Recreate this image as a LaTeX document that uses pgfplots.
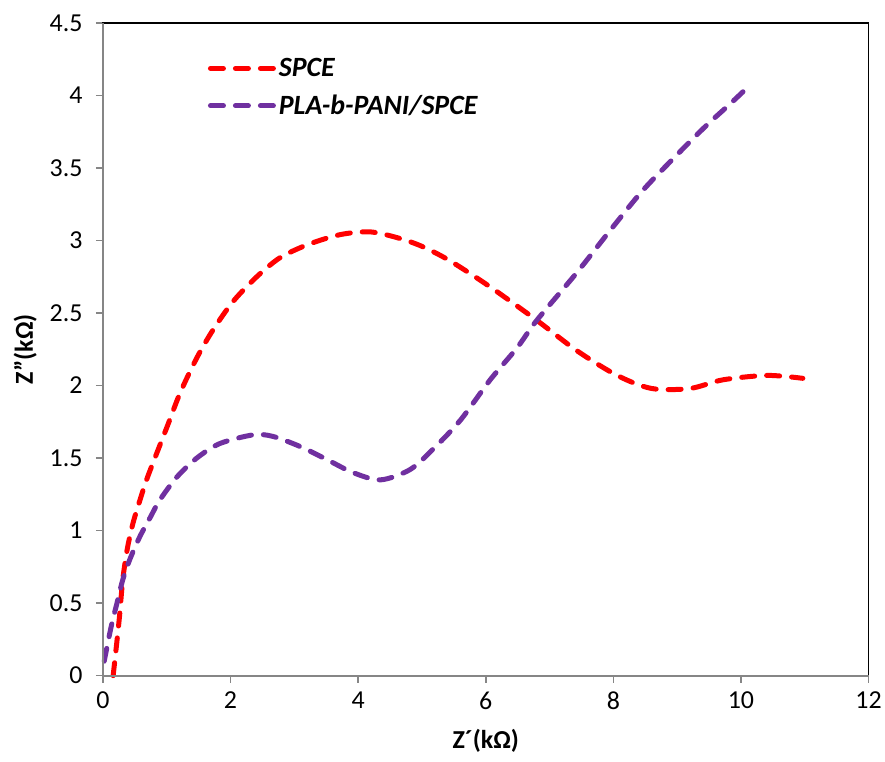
\documentclass[border=0pt]{standalone}
\usepackage{fontspec}
\setmainfont{Carlito}
\usepackage{pgfplots}
\pgfplotsset{compat=1.18}
\definecolor{myred}{RGB}{255,0,0}
\definecolor{mypurple}{RGB}{112,48,160}
\definecolor{axgray}{RGB}{134,134,134}
\begin{document}
\begin{tikzpicture}
\begin{axis}[
  at={(0,0)}, anchor=south west,
  width=766bp, height=653bp, scale only axis,
  xmin=0, xmax=12, ymin=0, ymax=4.5,
  xtick={0,2,...,12}, ytick={0,0.5,...,4.5},
  yticklabels={0,0.5,1,1.5,2,2.5,3,3.5,4,4.5},
  xtick pos=bottom, ytick pos=left,
  tick align=outside, major tick length=7bp,
  tick style={axgray, line width=1.5bp},
  axis line style={black, line width=1.5bp},
  /pgf/number format/assume math mode=true,
  ticklabel style={font=\fontsize{26}{30}\selectfont},
  yticklabel style={xshift=-10bp},
  xticklabel style={yshift=-6bp},
  xlabel={\bfseries Z´(kΩ)},
  ylabel={\bfseries Z”(kΩ)},
  label style={font=\fontsize{26}{30}\selectfont},
  xlabel style={yshift=-12bp},
  ylabel style={yshift=6bp},
  legend style={draw=none, fill=none, at={(0.133,0.952)}, anchor=north west,
    font=\fontsize{28}{32}\selectfont\bfseries\itshape, row sep=13bp,
    /tikz/every even column/.append style={column sep=8bp}},
  legend cell align=left,
  legend image code/.code={\draw[#1] (0bp,0bp) -- (64bp,0bp);},
  every axis plot/.append style={line width=5bp, line cap=round, dash pattern=on 13bp off 12bp, smooth, tension=0.5},
  clip=false,
]
\addplot[myred] coordinates {
(0.16,0.0) (0.21,0.2) (0.26,0.41) (0.31,0.66) (0.38,0.87) (0.47,1.05) (0.58,1.21) (0.70,1.37) (1.0,1.71) (1.21,1.95) (1.47,2.19) (1.72,2.38) (2.04,2.58) (2.41,2.75) (2.77,2.88) (3.2,2.97) (3.71,3.04) (4.18,3.06) (4.61,3.02) (5.0,2.96) (5.44,2.86) (6.07,2.68) (6.80,2.45) (7.43,2.24) (8.06,2.07) (8.6,1.98) (9.2,1.98) (9.72,2.04) (10.41,2.07) (10.97,2.05)
};
\addlegendentry{SPCE}
\addplot[mypurple] coordinates {
(0.02,0.1) (0.13,0.34) (0.22,0.5) (0.31,0.66) (0.42,0.8) (0.58,0.96) (0.74,1.09) (0.89,1.21) (1.16,1.37) (1.47,1.50) (1.83,1.60) (2.35,1.66) (2.66,1.65) (3.09,1.58) (3.51,1.49) (3.92,1.40) (4.35,1.35) (4.81,1.42) (5.17,1.56) (5.6,1.76) (6.07,2.04) (6.49,2.26) (6.80,2.45) (7.43,2.78) (7.95,3.07) (8.45,3.34) (8.95,3.57) (9.45,3.79) (9.80,3.93) (10.09,4.05)
};
\addlegendentry{PLA-b-PANI/SPCE}
\draw[axgray, line width=1.8bp] (rel axis cs:0,1) -- (rel axis cs:0,0) -- (rel axis cs:1,0);
\end{axis}
\path (-103bp,-86bp) rectangle (782bp,676bp);
\end{tikzpicture}
\end{document}
